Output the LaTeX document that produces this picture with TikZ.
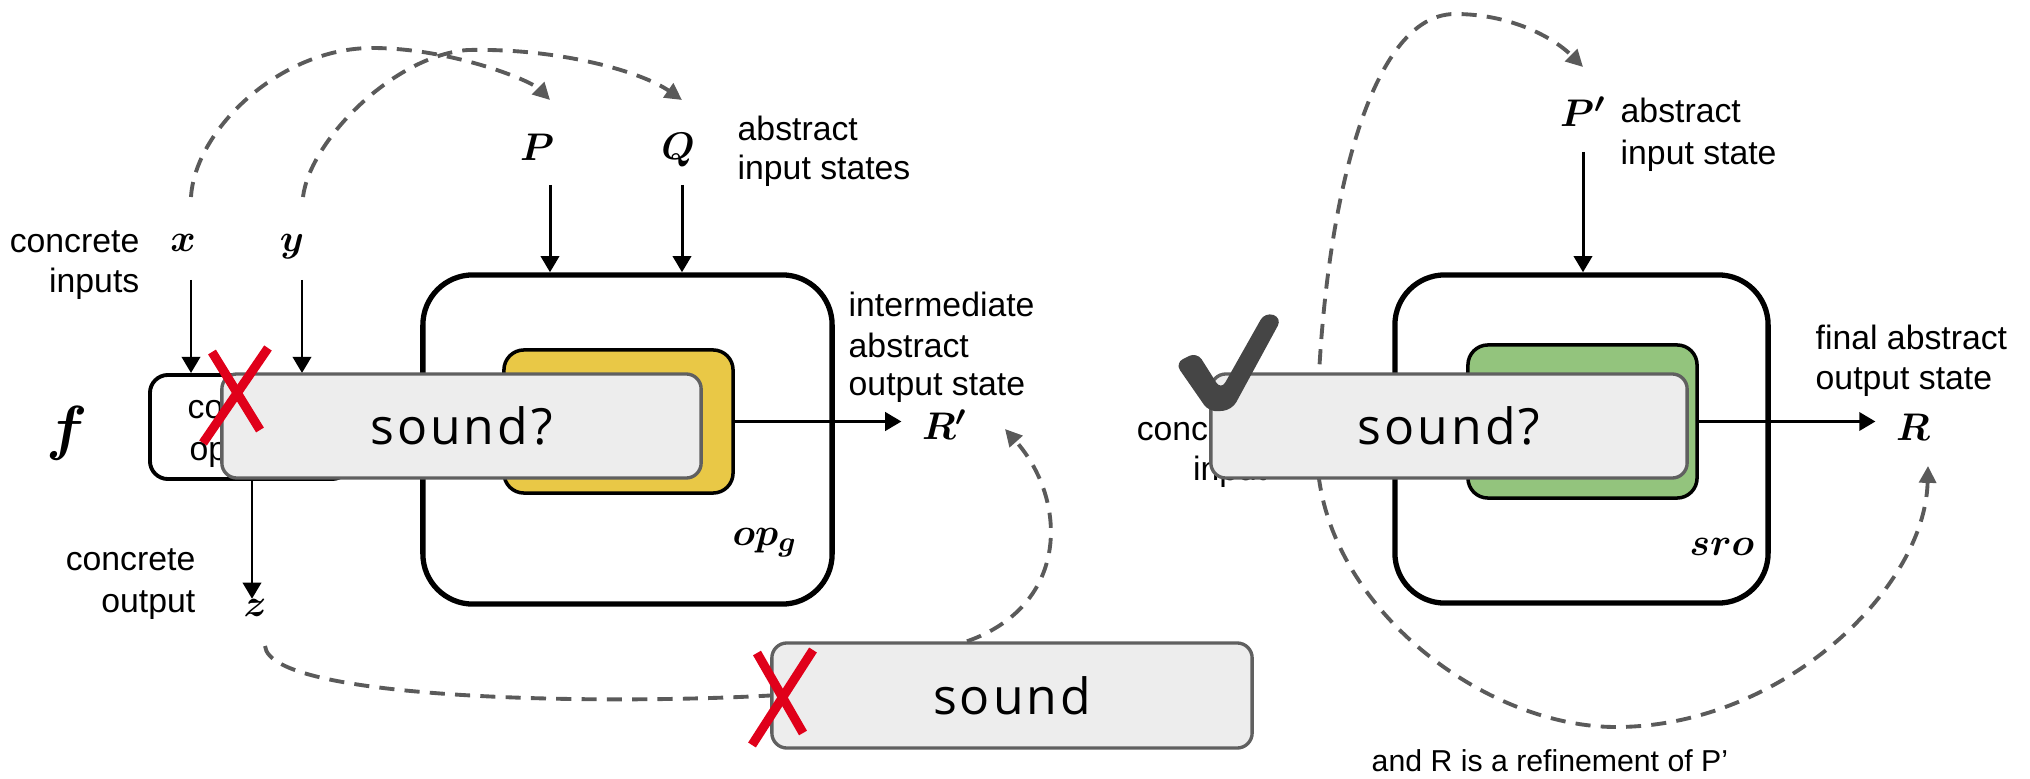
\documentclass[tikz,border=0pt]{standalone}
\usepackage{amsmath}
\usepackage{fontspec}
\setmainfont{Liberation Sans}
\newfontfamily\claimfont[LetterSpace=6]{Open Sans}
\usetikzlibrary{arrows.meta}

\definecolor{dashgray}{HTML}{5A5A5A}
\definecolor{boxgray}{HTML}{EDEDED}
\definecolor{boxedge}{HTML}{606060}
\definecolor{opyellow}{HTML}{E9C846}
\definecolor{opgreen}{HTML}{93C47D}
\definecolor{crossred}{HTML}{E0001A}
\definecolor{checkgray}{HTML}{454545}

\tikzset{
  flow/.style={line width=0.85pt, -{Triangle[length=4.6pt,width=5.2pt]}},
  hint/.style={draw=dashgray, line width=1.1pt, dash pattern=on 4.3pt off 2.9pt},
  hinttip/.style={-{Triangle[length=4.8pt,width=4.8pt]}},
  frame/.style={draw, line width=1.5pt, rounded corners=0.5cm, fill=white, inner sep=0},
  core/.style={draw, line width=1pt, rounded corners=0.2cm, inner sep=0},
  plainbox/.style={draw, line width=1.1pt, rounded corners=0.18cm, fill=white, inner sep=0},
  claim/.style={draw=boxedge, fill=boxgray, line width=0.95pt, rounded corners=0.15cm,
    inner sep=0, font=\claimfont\fontsize{14.2}{16}\selectfont},
  note/.style={inner sep=0, font=\fontsize{9.6}{11}\selectfont},
  smallnote/.style={inner sep=0, font=\fontsize{8.6}{10}\selectfont},
  sym/.style={inner sep=0, font=\fontsize{11}{13}\selectfont},
  opname/.style={inner sep=0, font=\fontsize{11}{13}\selectfont},
  cross/.style={draw=crossred, line width=2.6pt},
}

\begin{document}
\begin{tikzpicture}[x=0.01cm, y=-0.01cm]
\useasboundingbox (0,0) rectangle (2030,779);

% end points of the flows and of the dashed links
\coordinate (xs) at (191,280);
\coordinate (ys) at (302,280);
\coordinate (ps) at (550,185);
\coordinate (qs) at (682,185);
\coordinate (pps) at (1583,152);
\coordinate (zs) at (252,0);
\coordinate (xarc) at (191,197);
\coordinate (yarc) at (303,197);
\coordinate (ptip) at (550,100);
\coordinate (qtip) at (682,100);
\coordinate (zarc) at (265,646);
\coordinate (oks) at (967,0);
\coordinate (rptip) at (1005,429);
\coordinate (pptip) at (1583,67);
\coordinate (rtip) at (1928,466);

% dashed links
\draw[hint, hinttip] (xarc) .. controls (195,130) and (280,48) .. (372,48)
   .. controls (450,48) and (530,80) .. (ptip);
\draw[hint, hinttip] (yarc) .. controls (310,140) and (395,55) .. (468,50)
   .. controls (560,48) and (642,72) .. (qtip);
\draw[hint, {Triangle[length=4.8pt,width=4.8pt]}-{Triangle[length=4.8pt,width=4.8pt]}]
   (rtip) .. controls (1925,590) and (1780,727) .. (1616,727)
   .. controls (1480,727) and (1317,600) .. (1317,450)
   .. controls (1317,250) and (1360,14) .. (1455,14)
   .. controls (1510,14) and (1553,37) .. (pptip);

% operator frames
\node[frame, minimum width=4.09cm, minimum height=3.29cm] (opg) at (627.5,439.5) {};
\node[frame, minimum width=3.73cm, minimum height=3.28cm] (sro) at (1581.5,439) {};
\node[core, fill=opyellow, minimum width=2.29cm, minimum height=1.43cm] (yel) at (618.5,421.5) {};
\node[core, fill=opgreen, minimum width=2.29cm, minimum height=1.53cm] (grn) at (1582.5,421.5) {};

% concrete operation
\node[plainbox, minimum width=2.0cm, minimum height=1.04cm] (cop) at (250,427) {};
\node[note, anchor=base west] (cop1) at (187,418) {concrete};
\node[note, anchor=base west] (cop2) at (189,460) {operation};

% labels
\node[sym] (xin) at (183,243) {$\boldsymbol{x}$};
\node[sym] (yin) at (292,247) {$\boldsymbol{y}$};
\node[sym] (pin) at (537,147) {$\boldsymbol{P}$};
\node[sym] (qin) at (678,150) {$\boldsymbol{Q}$};
\node[inner sep=0, font=\fontsize{16.5}{18}\selectfont] (fname) at (67,433) {$\boldsymbol{f}$};
\node[sym] (zout) at (255,608) {$\boldsymbol{z}$};
\node[sym] (rp) at (945,425) {$\boldsymbol{R'}$};
\node[sym] (ppin) at (1583,112) {$\boldsymbol{P'}$};
\node[sym] (rfin) at (1913,427) {$\boldsymbol{R}$};
\node[opname] (opgname) at (765,543) {$\boldsymbol{op_g}$};
\node[opname] (sroname) at (1722,547) {$\boldsymbol{sro}$};

% solid flows
\draw[flow] (xs) -- (xs |- cop.north);
\draw[flow] (ys) -- (ys |- cop.north);
\draw[flow] (ps) -- (ps |- opg.north);
\draw[flow] (qs) -- (qs |- opg.north);
\draw[flow] (pps) -- (pps |- sro.north);
\draw[flow] (zs |- cop.south) -- (zs |- zout.north);
\draw[flow, shorten >=0.2cm] (yel.east) -- (yel.east -| rp.west);
\draw[flow, shorten >=0.2cm] (grn.east) -- (grn.east -| rfin.west);

% texts beside the flows
\node[note, anchor=base east] (ci1) at (140,252) {concrete};
\node[note, anchor=base east] (ci2) at (140,293) {inputs};
\node[note, anchor=base west] (ai1) at (737,141) {abstract};
\node[note, anchor=base west] (ai2) at (737,180) {input states};
\node[note, anchor=base west] (im1) at (848,316) {intermediate};
\node[note, anchor=base west] (im2) at (848,357) {abstract};
\node[note, anchor=base west] (im3) at (848,395) {output state};
\node[note, anchor=base east] (co1) at (196,570) {concrete};
\node[note, anchor=base east] (co2) at (196,612) {output};
\node[note, anchor=base west] (as1) at (1620,123) {abstract};
\node[note, anchor=base west] (as2) at (1620,165) {input state};
\node[note, anchor=base west] (fa1) at (1815,349) {final abstract};
\node[note, anchor=base west] (fa2) at (1815,389) {output state};
\node[note, anchor=base east] (cn1) at (1267,440) {concrete};
\node[note, anchor=base east] (cn2) at (1267,480) {input};
\node[smallnote, anchor=base west] (refine) at (1371,771) {and R is a refinement of P’};

% soundness claims
\node[claim, minimum width=4.79cm, minimum height=1.04cm] (qleft) at (461.5,426) {sound?};
\node[claim, minimum width=4.76cm, minimum height=1.04cm] (qright) at (1449,426) {sound?};
\node[claim, minimum width=4.80cm, minimum height=1.05cm] (ok) at (1012,695.5) {sound};

% links into and out of the lower claim
\draw[hint] (zarc) .. controls (270,700) and (600,705) .. (ok.west);
\draw[hint, hinttip] (oks |- ok.north) .. controls (1070,605) and (1068,500) .. (rptip);

% verdict marks
\draw[cross] (212,352) -- (260,430);
\draw[cross] (268,348) -- (203,443);
\draw[cross] (757,653) -- (803,733);
\draw[cross] (813,650) -- (752,745);
\fill[checkgray, rounded corners=2.5pt] (1175,363) -- (1197,352) -- (1221,390) -- (1265,312)
  -- (1282,318) -- (1232,410) -- (1209,412) -- cycle;
\end{tikzpicture}
\end{document}
